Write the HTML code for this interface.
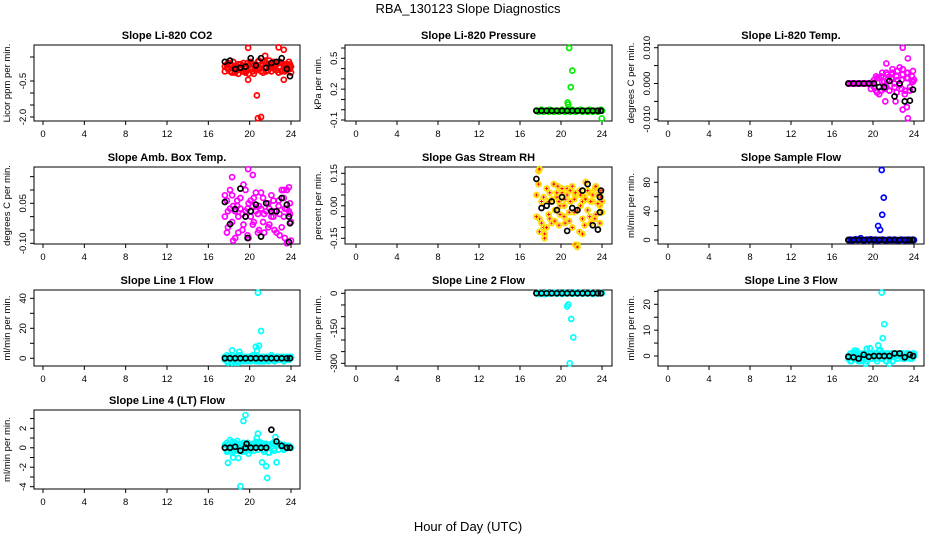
<!DOCTYPE html>
<html><head><meta charset="utf-8"><style>
body{margin:0;background:#fff;}
svg{display:block;font-family:"Liberation Sans",sans-serif;}
</style></head><body>
<svg id="chart" width="936" height="540" viewBox="0 0 936 540" xmlns="http://www.w3.org/2000/svg">
<text x="468" y="13" text-anchor="middle" font-size="13">RBA_130123  Slope Diagnostics</text>
<text x="468" y="531" text-anchor="middle" font-size="13">Hour of Day (UTC)</text>
</svg>
<script>
// shared time categories
const T = [17.6,17.8,17.9,18.1,18.3,18.4,18.6,18.8,18.9,19.1,19.3,19.4,19.6,19.8,19.9,20.1,20.3,20.4,20.6,20.8,20.9,21.1,21.3,21.4,21.6,21.8,21.9,22.1,22.3,22.4,22.6,22.8,22.9,23.1,23.3,23.4,23.6,23.8,23.9,24.0];
const BT = [17.6,18.1,18.6,19.1,19.6,20.1,20.6,21.1,21.6,22.1,22.6,23.1,23.6,23.9];
const xTickLabels = ["0","4","8","12","16","20","24"];
const xTickValues = [0,4,8,12,16,20,24];

// CO2
const co2A = [0.1,0.2,0.0,-0.1,0.15,0.05,-0.15,0.1,0.2,0.0,-0.1,0.25,0.1,-0.05,0.15,0.3,0.2,-0.2,0.1,0.0,0.35,-0.1,0.2,0.05,0.25,-0.05,0.15,0.1,0.3,0.0,0.2,-0.15,0.1,0.25,0.05,-0.1,0.2,0.1,0.0,-0.15];
const co2B = [-0.1,0.05,0.25,0.15,-0.15,0.3,0.1,-0.05,-0.2,0.2,0.15,-0.1,-0.15,0.25,-0.2,0.0,-0.1,0.15,-0.05,0.3,0.05,0.15,-0.15,0.3,-0.1,0.2,0.35,-0.1,0.05,0.2,-0.05,0.25,0.3,-0.1,0.2,0.15,-0.05,0.3,0.2,0.1];
const co2OutT = [19.85,22.8,23.3,20.7,20.8,21.1,19.85,23.3,21.5];
const co2OutV = [0.88,0.9,0.8,-1.1,-2.05,-2.0,-0.45,-0.45,0.55];
const co2Black = [0.3,0.35,0.0,0.05,0.1,0.45,0.15,0.45,0.05,0.25,0.3,0.45,0.0,-0.3];
const co2Ticks = [0.5,-0.5,-1.0,-1.5,-2.0];
const co2TickLabels = ["","-0.5","","","-2.0"];

// Pressure
const prA = [-0.01,-0.02,-0.01,0.0,-0.02,-0.01,-0.01,-0.02,0.0,-0.01,-0.02,-0.01,-0.01,-0.02,-0.01,0.0,-0.01,-0.02,-0.01,-0.01,-0.02,0.0,-0.01,-0.02,-0.01,-0.01,0.0,-0.02,-0.01,-0.01,-0.02,0.0,-0.01,-0.02,-0.01,-0.01,-0.02,-0.01,0.0,-0.01];
const prOutT = [20.8,21.1,20.95,20.65,20.7,23.98];
const prOutV = [0.60,0.38,0.22,0.07,0.05,-0.085];
const prBlack = [-0.01,-0.01,-0.01,-0.01,-0.01,-0.01,-0.01,-0.01,-0.01,-0.01,-0.01,-0.01,-0.01,-0.01];
const prTicks = [0.6,0.5,0.4,0.3,0.2,0.1,0.0,-0.1];
const prTickLabels = ["","0.5","","","0.2","","","-0.1"];

// Li-820 Temp
const ltA = [0,0,0,0,0,0,0,0,0,0,0,0,0,-0.0015,0.0003,0.001,-0.002,0.0015,-0.003,0.002,0.0005,-0.0015,0.003,0.001,-0.002,0.0025,0.003,-0.001,0.002,0.0035,-0.0005,0.001,0.004,-0.002,0.003,0.0015,-0.001,0.002,0.0005,0.001];
const ltB = [0,0,0,0,0,0,0,0,0,0,0,0,0,0,0,-0.001,0.002,-0.0025,0.0015,-0.002,0.003,0.0005,-0.001,0.0025,-0.002,0.0015,0.004,0.0,-0.0025,0.001,0.0045,-0.0015,0.0025,-0.003,0.0015,0.003,-0.002,0.0005,0.0035,0.001];
const ltOutT = [22.9,23.4,21.3,23.4,22.9,23.3,21.2,22.2];
const ltOutV = [0.010,0.007,0.0056,-0.0097,-0.0073,-0.0066,-0.005,-0.005];
const ltBlack = [0,0,0,0,0,0,-0.001,-0.001,0.0007,-0.0036,0,-0.005,-0.0048,-0.0017];
const ltTicks = [0.010,0.005,0.0,-0.005,-0.010];
const ltTickLabels = ["0.010","","0.000","","-0.010"];

// Amb box temp
const abA = [0.08,-0.06,0.02,0.1,-0.02,0.04,-0.08,0.06,0.0,0.03,-0.05,0.12,0.02,-0.07,0.05,0.0,-0.03,0.07,0.02,-0.06,0.04,0.09,-0.02,0.01,0.05,-0.04,0.03,0.08,0.0,-0.05,0.02,0.06,-0.07,0.1,0.0,-0.08,0.03,0.11,0.01,-0.02];
const abB = [0.0,0.06,-0.04,0.03,0.08,-0.09,0.02,0.04,-0.06,0.07,0.01,-0.03,0.1,0.03,-0.08,0.06,0.04,-0.02,0.09,0.01,-0.05,0.03,0.07,-0.06,0.02,0.05,-0.03,0.0,0.06,0.02,-0.06,0.04,0.01,-0.04,0.07,0.03,-0.1,0.02,0.05,-0.09];
const abOutT = [19.85,20.3,18.3,23.3,23.6];
const abOutV = [0.178,0.156,0.148,0.1,0.1];
const abBlack = [0.055,-0.028,0.028,0.105,0.0,0.02,0.045,-0.075,0.05,0.02,0.02,0.07,0.045,-0.025];
const abBlackExT = [19.8,23.8,23.8];
const abBlackExV = [-0.08,0.0,-0.095];
const abTicks = [0.15,0.10,0.05,0.0,-0.05,-0.10];
const abTickLabels = ["","","0.05","","","-0.10"];

// Gas stream RH
const rhA = [0.05,0.16,-0.06,0.02,-0.1,-0.13,0.08,-0.04,0.06,-0.08,0.1,-0.02,0.04,-0.09,0.0,0.06,-0.05,0.03,0.08,-0.07,0.02,0.09,-0.03,0.05,-0.18,0.07,0.0,-0.06,0.04,0.11,-0.02,0.06,-0.08,0.02,0.08,-0.04,0.05,0.0,0.07,0.02];
const rhB = [-0.05,0.1,-0.12,-0.08,0.04,-0.15,-0.1,0.02,-0.06,0.03,0.1,-0.07,0.06,0.02,-0.04,0.08,0.0,-0.08,0.05,-0.03,0.07,-0.1,0.03,0.06,-0.02,-0.12,0.05,0.02,-0.09,0.03,0.07,-0.05,0.02,0.05,-0.06,0.09,0.01,-0.08,0.04,-0.03];
const rhOutT = [17.9,19.7,21.4,21.6,22.1];
const rhOutV = [0.17,0.09,-0.18,-0.19,-0.13];
const rhBlack = [0.124,-0.01,0.0,0.02,-0.02,0.04,-0.116,-0.01,-0.02,0.07,0.1,-0.09,-0.11,0.07];
const rhBlackExT = [23.8,23.8];
const rhBlackExV = [0.04,-0.03];
const rhTicks = [0.15,0.10,0.05,0.0,-0.05,-0.10,-0.15];
const rhTickLabels = ["0.15","","","0.00","","","-0.15"];

// Sample flow
const sfA = [0,0.5,-0.5,0,1,0,0.5,2.5,0,-0.5,0,0.5,0,1,0,0,0.5,-0.5,0,0,0.5,0,-0.5,0,0.5,0,0,0.5,0,-0.5,0,0.5,0,0,-0.5,0.5,0,0,0.5,0];
const sfOutT = [20.85,21.05,20.9,20.5,20.7];
const sfOutV = [97,58.8,35,19.5,14];
const sfBlack = [0,0,0,0,0,0,0,0,0,0,0,0,0,0];
const sfTicks = [0,20,40,60,80];
const sfTickLabels = ["0","","40","","80"];

// Line 1 flow
const l1A = [-1,2,0,1,-3,0,1,-2,2,0,-1,1,0,-2,1,0,2,-1,0,1,-2,0,1,-2,0,-1,1,2,-1,0,1,-1,0,1,-2,0,1,-1,0,1];
const l1B = [1,-2,-3,0,2,-1,-3,1,-3,2,0,-2,1,0,-1,-2,0,1,-2,0,1,-2,-2,0,1,-2,0,-1,1,-2,0,1,-1,0,1,-1,0,-1,1,0];
const l1OutT = [20.8,21.1,20.9,20.6,20.7,18.3,19.0];
const l1OutV = [43.7,18.2,8.4,7.7,5,5.3,4.3];
const l1Black = [0,0,0,0,0,0,0,0,0,0,0,0,0,0];
const l1Ticks = [40,30,20,10,0];
const l1TickLabels = ["40","","20","","0"];

// Line 2 flow
const l2A = [0,2,-3,1,0,-4,2,0,-2,1,0,3,-2,0,1,-3,0,2,-1,0,1,-2,0,3,-1,0,2,-2,0,1,-1,0,2,-3,0,1,-1,0,2,0];
const l2OutT = [20.7,20.6,21.0,21.2,20.85];
const l2OutV = [-48,-56,-110,-189,-300];
const l2Black = [0,0,0,0,0,0,0,0,0,0,0,0,0,0];
const l2Ticks = [0,-50,-100,-150,-200,-250,-300];
const l2TickLabels = ["0","","","-150","","","-300"];

// Line 3 flow
const l3A = [-1,-2,0,1,-1,2,0,-2,1,-1,-3,0,1,-1,0,1,-1,0,2,-1,0,1,-2,0,-3,1,-2,0,1,-1,0,1,-1,0,1,0,-1,0,1,0];
const l3B = [0,1,-2,-1,1,-1,-2,0,-1,1,0,-2,0,1,-1,0,1,-2,0,1,-1,0,-2,1,-1,0,-2,1,0,-1,1,0,1,-1,0,1,0,-1,0,1];
const l3OutT = [20.85,21.1,20.95,20.5,20.7,19.7,19.4,18.2];
const l3OutV = [24.5,12.3,6.9,4.1,2.3,3,2.8,2.1];
const l3Black = [-0.3,-0.5,-1,0.5,-0.3,0,0,0,0,1,1,-0.5,0.5,0];
const l3Ticks = [25,20,15,10,5,0];
const l3TickLabels = ["","20","","10","","0"];

// Line 4 flow
const l4A = [0,-0.4,0.3,0.8,-0.5,0.2,0.5,-0.3,0.4,-0.2,0.3,0.1,-0.4,0.5,-0.6,0.2,0.4,-0.3,0.6,0.2,0.3,0.5,-0.2,0.2,0.4,-0.5,0.3,0.1,0.5,-0.3,0.2,0.4,0.3,0.1,-0.2,0.2,0.1,0.2,0,0];
const l4B = [0.3,0.5,-0.3,-0.2,0.6,-0.3,-0.2,0.7,0.1,0.2,-0.4,0.5,0.3,0.1,0.2,-0.3,0.1,0.4,0.1,-0.2,0.6,0.1,0.4,-0.4,0.3,0.2,-0.5,0.4,-0.1,0.6,0.3,-0.2,0.4,0.1,0.3,-0.1,0.2,0.1,0.1,0];
const l4OutT = [19.6,19.4,19.1,21.7,21.2,21.6,17.9,20.8,20.7,22.5,22.6,18.4,18.9];
const l4OutV = [3.36,2.75,-3.95,-3.1,-1.5,-1.9,-1.55,1.45,1.0,1.1,-1.5,-1.0,-1.05];
const l4Black = [0,0,0.1,-0.3,0,0,0,0,0,1.85,0.65,0.2,0,0];
const l4BlackExT = [19.7];
const l4BlackExV = [0.4];
const l4Ticks = [3,2,1,0,-1,-2,-3,-4];
const l4TickLabels = ["","2","","0","","-2","","-4"];

const NS = "http://www.w3.org/2000/svg";
const svg = document.getElementById('chart');
function mk(tag, attrs, parent){
  const e = document.createElementNS(NS, tag);
  for (const k in attrs) e.setAttribute(k, attrs[k]);
  (parent||svg).appendChild(e);
  return e;
}
const COLS = [{l:34,r:300,x0:43,x24:291},{l:345,r:612,x0:356,x24:602},{l:658,r:924,x0:668,x24:914}];
const ROWS = [{t:45,b:121},{t:167,b:244},{t:290,b:366},{t:410,b:489}];

const panels = [
 {name:"co2",title:"Slope Li-820 CO2",ylab:"Licor ppm per min.",c:0,r:0,va:-0.5,ya:81,vb:-2.0,yb:117,ticks:co2Ticks,labels:co2TickLabels,col:"#ff0000",A:co2A,B:co2B,oT:co2OutT,oV:co2OutV,blk:co2Black},
 {name:"pressure",title:"Slope Li-820 Pressure",ylab:"kPa per min.",c:1,r:0,va:-0.1,ya:120,vb:0.5,yb:58.3,ticks:prTicks,labels:prTickLabels,col:"#00ee00",A:prA,oT:prOutT,oV:prOutV,blk:prBlack},
 {name:"li820-temp",title:"Slope Li-820 Temp.",ylab:"degrees C per min.",c:2,r:0,va:0.010,ya:47.7,vb:-0.010,yb:119.3,ticks:ltTicks,labels:ltTickLabels,col:"#ff00ff",A:ltA,B:ltB,oT:ltOutT,oV:ltOutV,blk:ltBlack},
 {name:"amb-box-temp",title:"Slope Amb. Box Temp.",ylab:"degrees C per min.",c:0,r:1,va:0.05,ya:203.3,vb:-0.10,yb:243.3,ticks:abTicks,labels:abTickLabels,col:"#ff00ff",A:abA,B:abB,oT:abOutT,oV:abOutV,blk:abBlack,bxT:abBlackExT,bxV:abBlackExV},
 {name:"gas-stream-rh",title:"Slope Gas Stream RH",ylab:"percent per min.",c:1,r:1,va:0.15,ya:173.3,vb:-0.15,yb:238.3,ticks:rhTicks,labels:rhTickLabels,col:"#ffdd00",cross:true,A:rhA,B:rhB,oT:rhOutT,oV:rhOutV,blk:rhBlack,bxT:rhBlackExT,bxV:rhBlackExV},
 {name:"sample-flow",title:"Slope Sample Flow",ylab:"ml/min per min.",c:2,r:1,va:80,ya:182.3,vb:0,yb:240,ticks:sfTicks,labels:sfTickLabels,col:"#0000ff",A:sfA,oT:sfOutT,oV:sfOutV,blk:sfBlack},
 {name:"line1-flow",title:"Slope Line 1 Flow",ylab:"ml/min per min.",c:0,r:2,va:40,ya:298.3,vb:0,yb:358.3,ticks:l1Ticks,labels:l1TickLabels,col:"#00ffff",A:l1A,B:l1B,oT:l1OutT,oV:l1OutV,blk:l1Black},
 {name:"line2-flow",title:"Slope Line 2 Flow",ylab:"ml/min per min.",c:1,r:2,va:0,ya:293.3,vb:-300,yb:363.3,ticks:l2Ticks,labels:l2TickLabels,col:"#00ffff",A:l2A,oT:l2OutT,oV:l2OutV,blk:l2Black},
 {name:"line3-flow",title:"Slope Line 3 Flow",ylab:"ml/min per min.",c:2,r:2,va:20,ya:304.3,vb:0,yb:356,ticks:l3Ticks,labels:l3TickLabels,col:"#00ffff",A:l3A,B:l3B,oT:l3OutT,oV:l3OutV,blk:l3Black},
 {name:"line4-flow",title:"Slope Line 4 (LT) Flow",ylab:"ml/min per min.",c:0,r:3,va:2,ya:428.3,vb:-4,yb:486.7,ticks:l4Ticks,labels:l4TickLabels,col:"#00ffff",A:l4A,B:l4B,oT:l4OutT,oV:l4OutV,blk:l4Black,bxT:l4BlackExT,bxV:l4BlackExV}
];

panels.forEach(p=>{
  const C = COLS[p.c], R = ROWS[p.r];
  const xs = t => C.x0 + (C.x24-C.x0)*t/24;
  const ys = v => p.ya + (v-p.va)*(p.yb-p.ya)/(p.vb-p.va);
  const g = mk('g',{});
  
  
  const ttl = mk('text',{x:(C.l+C.r)/2,y:R.t-6,'text-anchor':'middle','font-size':'11','font-weight':'bold'},g);
  ttl.textContent = p.title;
  
  
  const box = mk('rect',{x:C.l,y:R.t,width:C.r-C.l,height:R.b-R.t,fill:'none',stroke:'#000','stroke-width':1},g);
  
  
  const xa = mk('g',{},g);
  
  
  mk('line',{x1:xs(0),x2:xs(24),y1:R.b,y2:R.b,stroke:'#000'},xa);
  xTickValues.forEach((v,i)=>{
    mk('line',{x1:xs(v),x2:xs(v),y1:R.b,y2:R.b+4,stroke:'#000'},xa);
    const t = mk('text',{x:xs(v),y:R.b+16,'text-anchor':'middle','font-size':'9.5'},xa);
    t.textContent = xTickLabels[i];
  });
  const ya = mk('g',{},g);
  
  
  mk('line',{x1:C.l,x2:C.l,y1:ys(p.ticks[0]),y2:ys(p.ticks[p.ticks.length-1]),stroke:'#000'},ya);
  p.ticks.forEach((v,i)=>{
    mk('line',{x1:C.l-4,x2:C.l,y1:ys(v),y2:ys(v),stroke:'#000'},ya);
    if (p.labels[i]) {
      const tx = C.l-8, ty = ys(v);
      const t = mk('text',{x:tx,y:ty,'text-anchor':'middle','font-size':'9.5',transform:`rotate(-90 ${tx} ${ty})`},ya);
      t.textContent = p.labels[i];
    }
  });
  const yl = mk('text',{x:C.l-24,y:(R.t+R.b)/2,'text-anchor':'middle','font-size':'9.5',transform:`rotate(-90 ${C.l-24} ${(R.t+R.b)/2})`},g);
  yl.textContent = p.ylab;
  
  
  const pts = mk('g',{},g);
  
  
  const dot = (t,v,col)=>{
    const c = mk('circle',{cx:xs(t),cy:ys(v),r:2.5,fill:'none',stroke:col,'stroke-width':1.7},pts);
    
    
    if (p.cross && col!=='#000') {
      mk('path',{d:`M${xs(t)-1.5} ${ys(v)}h3M${xs(t)} ${ys(v)-1.5}v3`,stroke:'#ff0000','stroke-width':1},pts);
    }
  };
  [p.A,p.B].forEach(arr=>{ if(arr) arr.forEach((v,i)=>dot(T[i],v,p.col)); });
  p.oT.forEach((t,i)=>dot(t,p.oV[i],p.col));
  p.blk.forEach((v,i)=>dot(BT[i],v,'#000'));
  if (p.bxT) p.bxT.forEach((t,i)=>dot(t,p.bxV[i],'#000'));
});
</script>
</body></html>
